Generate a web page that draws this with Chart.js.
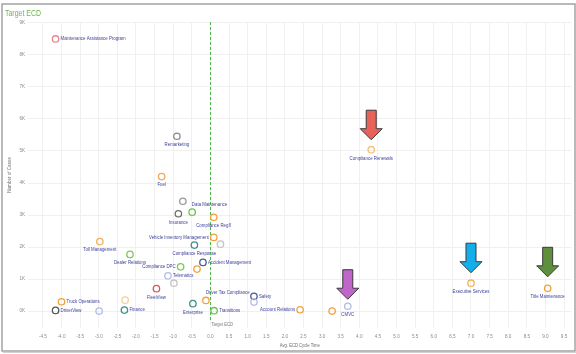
<!DOCTYPE html>
<html><head><meta charset="utf-8">
<script src="https://cdn.jsdelivr.net/npm/chart.js@4.4.0/dist/chart.umd.min.js"></script>
<style>html,body{margin:0;padding:0;background:#fff;overflow:hidden}</style>
</head><body><canvas id="c" width="576" height="354"></canvas>
<script>
// ---- data ----
const programs = ['Maintenance Assistance Program','Remarketing','Fuel','Data Maintenance','Insurance','',
  'Compliance RegX','Vehicle Inventory Management','','Compliance Response','Toll Management','Dealer Relations',
  'Compliance DPC','','Telematics','','FleetView','Accident Management','Driver Tax Compliance','Safety','',
  'Enterprise','Transitions','Account Relations','','CMVC','Executive Services','Title Maintenance',
  'Compliance Renewals','Truck Operations','','DriverView','','Finance'];
const cycleTime = [-4.16,-0.90,-1.31,-0.74,-0.86,-0.49,
  0.09,0.09,0.27,-0.43,-2.97,-2.16,
  -0.80,-0.36,-1.14,-0.98,-1.45,-0.20,-0.12,1.17,1.17,
  -0.47,0.10,2.41,3.27,3.69,7.00,9.06,
  4.32,-4.00,-2.29,-4.16,-2.99,-2.31];
const cases = [8500,5460,4200,3430,3040,3090,
  2930,2300,2090,2060,2170,1770,
  1380,1310,1100,870,700,1520,330,460,280,
  230,10,40,0,150,870,710,
  5040,290,340,20,0,30];
const xTicks = [-4.5,-4.0,-3.5,-3.0,-2.5,-2.0,-1.5,-1.0,-0.5,0.0,0.5,1.0,1.5,2.0,2.5,3.0,3.5,4.0,4.5,5.0,5.5,6.0,6.5,7.0,7.5,8.0,8.5,9.0,9.5];
const yTicks = [0,1000,2000,3000,4000,5000,6000,7000,8000,9000];
const targetECD = 0;
const highlighted = ['Compliance Renewals','CMVC','Executive Services','Title Maintenance'];

// ---- styles ----
const pointColors = ['#e8868f','#8a8a8a','#f2a65a','#9a9a9a','#6f6f6f','#6cc24a',
  '#f2a23c','#f2a23c','#c4c4c4','#3e8e8a','#f5b15a','#7cc85c',
  '#7cc85c','#f2a23c','#b3bce6','#c4c4c4','#e05757','#4b5a9a','#f2a23c','#4b5a9a','#b3bce6',
  '#3e8e8a','#6cc24a','#f2a23c','#f2a23c','#b3bce6','#f5b15a','#f2a23c',
  '#f5c07a','#f2a23c','#f7cf9c','#555555','#b3bce6','#3e8e8a'];
const labelPlace = ['r','b','b','rb','b','',
  'b','l','','b','b','b',
  'l','','r','','b','r','a','r','',
  'b','r','l','','b','b','b',
  'b','r','','r','','r'];
const arrowColors = ['#e8625a','#c066c8','#14aeea','#5f8f3c'];
const arrowGap = [10,7,10.5,11.5];

const FONT = "'Liberation Sans',Arial,sans-serif";

function squeezedText(ctx, text, x, y, align, sx) {
  ctx.save();
  ctx.translate(x, y);
  ctx.scale(sx, 1);
  ctx.textAlign = align;
  ctx.fillText(text, 0, 0);
  ctx.restore();
}

const overlay = {
  id:'overlay',
  beforeDraw(chart){
    const ctx = chart.ctx;
    ctx.save();
    ctx.fillStyle = '#fff';
    ctx.fillRect(0,0,chart.width,chart.height);
    ctx.restore();
  },
  beforeDatasetsDraw(chart){
    const {ctx, chartArea:a, scales:{x}} = chart;
    const px = Math.round(x.getPixelForValue(targetECD)) + 0.5;
    ctx.save();
    ctx.strokeStyle = '#4fb84a';
    ctx.lineWidth = 1;
    ctx.setLineDash([3,2]);
    ctx.beginPath();
    ctx.moveTo(px, a.top);
    ctx.lineTo(px, a.bottom - 6);
    ctx.stroke();
    ctx.setLineDash([]);
    ctx.fillStyle = '#7a7a7a';
    ctx.font = "4.8px " + FONT;
    ctx.textBaseline = 'middle';
    squeezedText(ctx, 'Target ECD', px + 1, a.bottom - 3, 'left', 0.87);
    ctx.restore();
  },
  afterDatasetsDraw(chart){
    const {ctx, chartArea:a} = chart;
    const meta = chart.getDatasetMeta(0);
    ctx.save();
    ctx.font = "5px " + FONT;
    ctx.fillStyle = '#3c3f9a';
    ctx.textBaseline = 'middle';
    programs.forEach((name, i) => {
      if (!name) return;
      const pt = meta.data[i];
      const p = labelPlace[i];
      let tx = pt.x, ty = pt.y, al = 'left';
      if (p === 'r') { tx += 5; }
      else if (p === 'rb') { tx += 9; ty += 3; }
      else if (p === 'l') { al = 'right'; tx -= 5; }
      else if (p === 'b') { al = 'center'; ty += 8.5; }
      else if (p === 'a') { ty -= 7.5; }
      squeezedText(ctx, name, tx, ty, al, 0.87);
    });
    // arrows
    highlighted.forEach((name, k) => {
      const i = programs.indexOf(name);
      const pt = meta.data[i];
      const cx = pt.x, tip = pt.y - arrowGap[k];
      ctx.beginPath();
      ctx.moveTo(cx - 5, tip - 29.5);
      ctx.lineTo(cx + 5, tip - 29.5);
      ctx.lineTo(cx + 5, tip - 11);
      ctx.lineTo(cx + 11, tip - 11);
      ctx.lineTo(cx, tip);
      ctx.lineTo(cx - 11, tip - 11);
      ctx.lineTo(cx - 5, tip - 11);
      ctx.closePath();
      ctx.fillStyle = arrowColors[k];
      ctx.fill();
      ctx.strokeStyle = '#3a3a3a';
      ctx.lineWidth = 1;
      ctx.stroke();
    });
    ctx.restore();
  },
  afterDraw(chart){
    const {ctx, chartArea:a} = chart;
    ctx.save();
    // frame
    ctx.strokeStyle = '#a3a3a3';
    ctx.lineWidth = 1.5;
    ctx.strokeRect(2, 4, 573, 347);
    ctx.strokeStyle = 'rgba(120,120,120,0.35)';
    ctx.lineWidth = 1;
    ctx.beginPath();
    ctx.moveTo(576.5, 5); ctx.lineTo(576.5, 352.5); ctx.lineTo(3, 352.5);
    ctx.stroke();
    // title
    ctx.fillStyle = '#6cb847';
    ctx.font = "8.5px " + FONT;
    ctx.textBaseline = 'alphabetic';
    squeezedText(ctx, 'Target ECD', 5, 16, 'left', 0.82);
    // axis titles
    ctx.fillStyle = '#6a6a6a';
    ctx.font = "4.8px " + FONT;
    ctx.textBaseline = 'middle';
    squeezedText(ctx, 'Avg. ECD Cycle Time', (a.left + a.right) / 2, 346, 'center', 0.87);
    ctx.translate(10, (a.top + a.bottom) / 2);
    ctx.rotate(-Math.PI / 2);
    squeezedText(ctx, 'Number of Cases', 0, 0, 'center', 0.95);
    ctx.restore();
  }
};

new Chart(document.getElementById('c'), {
  type: 'scatter',
  data: {
    datasets: [{
      data: cycleTime.map((v, i) => ({x: v, y: cases[i]})),
      pointStyle: 'circle',
      pointRadius: 3.2,
      pointHoverRadius: 3.2,
      pointBorderWidth: 1.3,
      pointBackgroundColor: 'rgba(255,255,255,0)',
      pointBorderColor: pointColors
    }]
  },
  options: {
    responsive: false,
    animation: false,
    devicePixelRatio: 1,
    layout: { padding: { left: 3, right: 4, top: 22, bottom: 4 } },
    plugins: { legend: { display: false }, tooltip: { enabled: false } },
    scales: {
      x: {
        type: 'linear', min: -4.9, max: 9.7,
        afterBuildTicks: s => { s.ticks = xTicks.map(v => ({value: v})); },
        afterFit: s => { s.height = 22; },
        grid: { color: '#f0f0f0', lineWidth: 1, drawTicks: false },
        border: { display: false },
        ticks: { padding: 5.5, maxRotation: 0, autoSkip: false, color: '#8a8a8a',
          font: { size: 4.6, family: FONT },
          callback: v => v.toFixed(1) }
      },
      y: {
        type: 'linear', min: -530, max: 9030,
        afterBuildTicks: s => { s.ticks = yTicks.map(v => ({value: v})); },
        afterFit: s => { s.width = 25; },
        grid: { color: '#f0f0f0', lineWidth: 1, drawTicks: false },
        border: { display: false },
        ticks: { padding: 3, color: '#8a8a8a', font: { size: 4.6, family: FONT },
          callback: v => (v / 1000) + 'K' }
      }
    }
  },
  plugins: [overlay]
});
</script>
</body></html>
